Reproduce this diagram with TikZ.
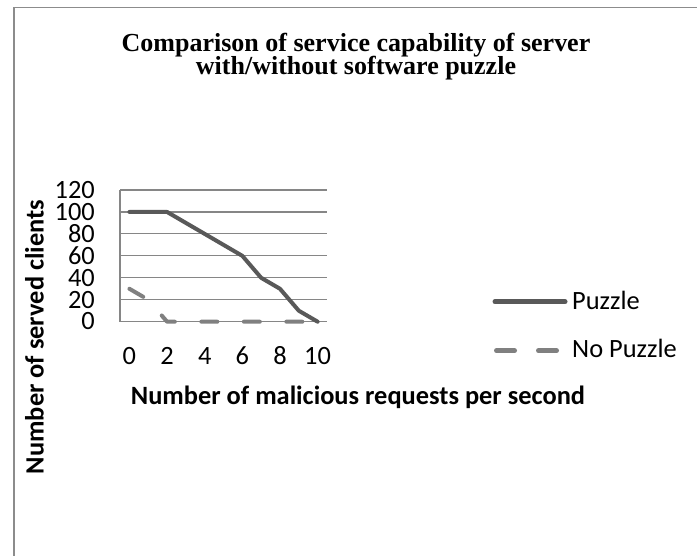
\documentclass[tikz,border=0pt]{standalone}
\usepackage{fontspec}
\newfontfamily\calfont{Carlito}
\newfontfamily\timesfont{Liberation Serif}
\definecolor{frame}{HTML}{8C8C8C}
\definecolor{grid}{HTML}{868686}
\definecolor{puz}{HTML}{595959}
\definecolor{nopuz}{HTML}{808080}
\tikzset{
  tick/.style={inner sep=0pt, font=\calfont\fontsize{26.4}{26}\selectfont},
  legtext/.style={inner sep=0pt, anchor=base west, font=\calfont\fontsize{26.4}{26}\selectfont},
  axtitle/.style={inner sep=0pt, anchor=base, font=\calfont\bfseries\fontsize{26.4}{26}\selectfont},
  ttl/.style={inner sep=0pt, anchor=base, font=\timesfont\bfseries\fontsize{26}{26}\selectfont},
  gridline/.style={draw=grid, line width=1.2pt},
  puzline/.style={draw=puz, line width=4pt, line cap=round, line join=round},
  nopuzline/.style={draw=nopuz, line width=4pt, line cap=round, line join=round, dash pattern=on 16pt off 26.5pt},
}
\begin{document}
\begin{tikzpicture}[x=1pt,y=-1pt]
\useasboundingbox (0,0) rectangle (697,556);
\fill[white] (0,0) rectangle (697,556);
% frame
\coordinate (fl) at (13.5,556);
\coordinate (ftl) at (13.5,7.3);
\coordinate (fr) at (697,7.3);
\draw[frame, line width=2pt] (fl) -- (ftl);
\draw[frame, line width=1.5pt] (ftl) -- (fr);
% title
\node[ttl] (t1) at (356,51.5) {Comparison of service capability of server};
\node[ttl] (t2) at (356,74.5) {with/without software puzzle};
% plot
\begin{scope}[shift={(120,321.7)}, x=18.82pt, y={(0pt,1.0975pt)}]
  \foreach \v in {20,40,...,120} {\draw[gridline] (0,\v) -- (11,\v);}
  \coordinate (o) at (0,0);
  \coordinate (xe) at (11,0);
  \coordinate (ye) at (0,120);
  \draw[gridline] (ye) -- (o) -- (xe);
  \foreach \v in {0,20,...,120} {\node[tick, anchor=base east] (yl\v) at ([xshift=-25pt, yshift=-8.3pt]0,\v) {\v};}
  \foreach \i in {0,2,...,10} {\node[tick, anchor=base] (xl\i) at ([yshift=-43.3pt]\i+0.5,0) {\i};}
  \draw[puzline] (0.5,100) -- (1.5,100) -- (2.5,100) -- (3.5,90) -- (4.5,80) -- (5.5,70) -- (6.5,60) -- (7.5,40) -- (8.5,30) -- (9.5,10) -- (10.5,0);
  \draw[nopuzline] (0.5,30) -- (1.5,20) -- (2.5,0) -- (3.5,0) -- (4.5,0) -- (5.5,0) -- (6.5,0) -- (7.5,0) -- (8.5,0) -- (9.5,0) -- (10.5,0);
\end{scope}
% axis titles
\node[axtitle] (xt) at (358,405) {Number of malicious requests per second};
\node[axtitle, rotate=90] (yt) at (43.5,337) {Number of served clients};
% legend
\coordinate (l1a) at (495,301.7);
\coordinate (l1b) at (565,301.7);
\coordinate (l2a) at (496.5,350.7);
\coordinate (l2b) at (565,350.7);
\draw[puzline, line width=5pt] (l1a) -- (l1b);
\draw[nopuzline, line width=5pt, dash pattern=on 18pt off 24pt] (l2a) -- (l2b);
\node[legtext] (lp) at (572,310) {Puzzle};
\node[legtext] (lnp) at (572,357.3) {No Puzzle};
\end{tikzpicture}
\end{document}
